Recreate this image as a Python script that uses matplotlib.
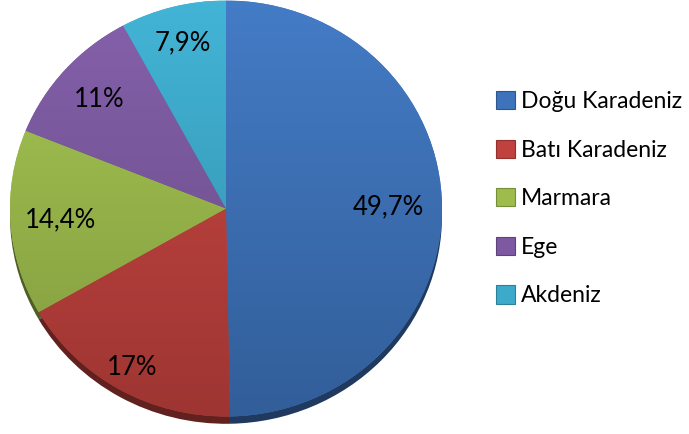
import matplotlib
matplotlib.use('Agg')
import matplotlib.pyplot as plt
import matplotlib.colors as mcolors
import matplotlib.patches as mpatches
import numpy as np

regions = ['Doğu Karadeniz', 'Batı Karadeniz', 'Marmara', 'Ege', 'Akdeniz']
shares = [49.7, 17.0, 14.4, 11.0, 7.9]
share_labels = ['49,7%', '17%', '14,4%', '11%', '7,9%']

colors = ['#3D73BB', '#C0413D', '#9DBC4C', '#7C59A1', '#3CAACB']
label_radius = [0.75, 0.88, 0.77, 0.79, 0.82]

plt.rcParams['font.family'] = ['Lato', 'DejaVu Sans']

fig = plt.figure(figsize=(6.89, 4.34), dpi=100)
# one data unit = 216 px across, 208 px down; extra room below for the rim
ax = fig.add_axes([10 / 689, 5 / 434, 432 / 689, 2.06 * 208 / 434])


def shade(c, f):
    return tuple(np.clip(np.array(mcolors.to_rgb(c)) * f, 0, 1))


# darker copy slightly lower gives the bevelled edge
rim, _ = ax.pie(shares, colors=[shade(c, 0.5) for c in colors], startangle=90,
                counterclock=False, center=(0, -0.035), wedgeprops=dict(linewidth=0),
                frame=True)
wedges, _ = ax.pie(shares, colors=colors, startangle=90, counterclock=False,
                   wedgeprops=dict(linewidth=0), frame=True)
ax.set_aspect('auto')
ax.set_xlim(-1, 1)
ax.set_ylim(-1.06, 1)

# soft vertical shading on each slice, clipped to the wedge
grad = np.linspace(0, 1, 256).reshape(-1, 1)
for w, c in zip(wedges, colors):
    base = np.array(mcolors.to_rgb(c))
    top = np.clip(base * 1.03 + 0.02, 0, 1)
    bottom = base * 0.82
    img = top[None, None, :] * (1 - grad[:, :, None]) + bottom[None, None, :] * grad[:, :, None]
    im = ax.imshow(img, extent=[-1, 1, -1, 1], origin='upper', aspect='auto', zorder=2)
    im.set_clip_path(w)

# percentage labels
for w, txt, r in zip(wedges, share_labels, label_radius):
    ang = np.deg2rad((w.theta1 + w.theta2) / 2)
    ax.text(r * np.cos(ang), r * np.sin(ang), txt, ha='center', va='center',
            fontsize=18.5, color='black', zorder=3)

ax.axis('off')

handles = [mpatches.Patch(facecolor=c, edgecolor=shade(c, 0.75), linewidth=0.8)
           for c in colors]
fig.legend(handles, regions, loc='upper left', bbox_to_anchor=(496 / 689, 1 - 91 / 434),
           frameon=False, fontsize=16.5, handlelength=0.85, handleheight=0.85,
           handletextpad=0.25, labelspacing=1.2, borderaxespad=0, borderpad=0)

fig.savefig('out.png', dpi=100)
